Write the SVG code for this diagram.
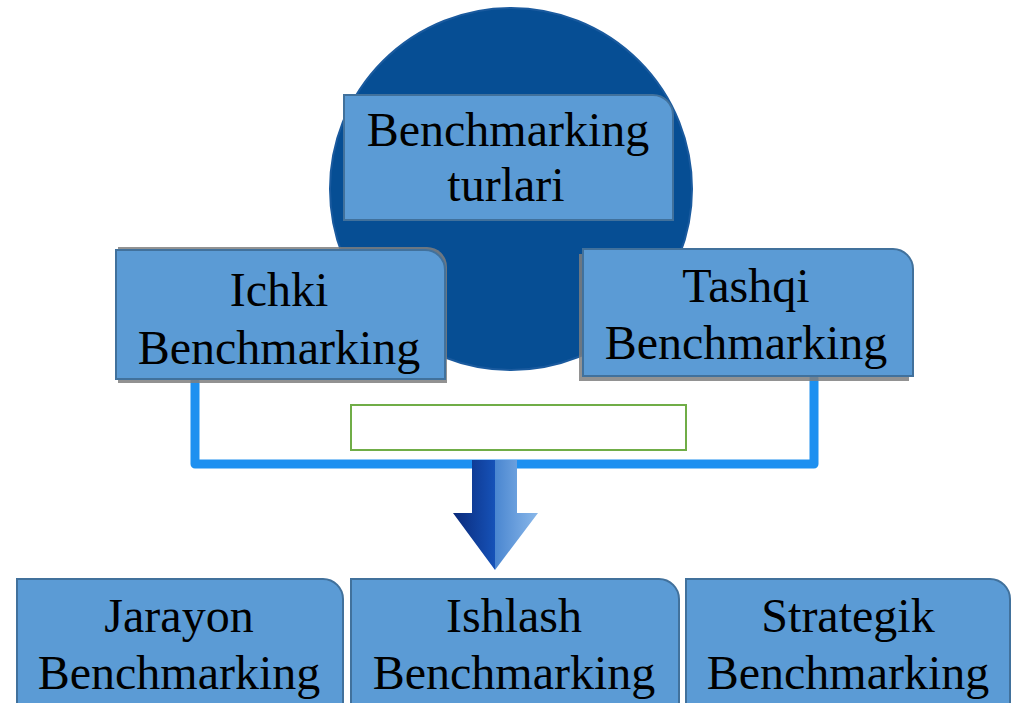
<svg xmlns="http://www.w3.org/2000/svg" width="1014" height="703" viewBox="0 0 1014 703">
<style>
.box{fill:#5b9bd5;stroke:#41719c;stroke-width:2}
.shadow{fill:#7f7f7f;opacity:0.85}
.t{font-family:"Liberation Serif","Times New Roman",serif;font-size:48px;fill:#000;text-anchor:middle}
.conn{fill:none;stroke:#1e90f0;stroke-width:9;stroke-linejoin:round;stroke-linecap:round}
</style>
<defs>
<linearGradient id="arrowL" x1="0" y1="0" x2="1" y2="0">
<stop offset="0" stop-color="#0a2a7a"/>
<stop offset="1" stop-color="#1652b8"/>
</linearGradient>
<linearGradient id="arrowR" x1="0" y1="0" x2="1" y2="0">
<stop offset="0" stop-color="#4a86d0"/>
<stop offset="1" stop-color="#8ab8ea"/>
</linearGradient>
</defs>
<rect width="1014" height="703" fill="#ffffff"/>
<g id="circle">
<circle cx="511" cy="189" r="181" fill="#064e94" stroke="#1a5a9e" stroke-width="2"/>
</g>
<g id="connectors">
<path class="conn" d="M195,380 V464 H814 V378"/>
<rect x="351" y="405" width="335" height="45" fill="#ffffff" stroke="#70ad47" stroke-width="2"/>
<g id="arrow">
<polygon points="472,460 495,460 495,570 453,513 472,513" fill="url(#arrowL)"/>
<polygon points="495,460 517,460 517,513 538,513 495,570" fill="url(#arrowR)"/>
</g>
</g>
<g id="node-top">
<path class="box" d="M344,95 H653 A20,20 0 0 1 673,115 V220 H344 Z"/>
<text class="t" x="508" y="146">Benchmarking</text>
<text class="t" x="506" y="201">turlari</text>
</g>
<g id="node-ichki">
<path class="shadow" d="M118,247 H427 A20,20 0 0 1 447,267 V383 H118 Z"/>
<path class="box" d="M116,250 H425 A20,20 0 0 1 445,270 V379 H116 Z"/>
<text class="t" x="279" y="306">Ichki</text>
<text class="t" x="279" y="364">Benchmarking</text>
</g>
<g id="node-tashqi">
<path class="shadow" d="M579,254 H889 A20,20 0 0 1 909,274 V381 H579 Z"/>
<path class="box" d="M583,249 H893 A20,20 0 0 1 913,269 V376 H583 Z"/>
<text class="t" x="746" y="302">Tashqi</text>
<text class="t" x="746" y="359">Benchmarking</text>
</g>
<g id="node-jarayon">
<path class="box" d="M17,579 H323 A20,20 0 0 1 343,599 V710 H17 Z"/>
<text class="t" x="179" y="632">Jarayon</text>
<text class="t" x="179" y="689">Benchmarking</text>
</g>
<g id="node-ishlash">
<path class="box" d="M351,579 H659 A20,20 0 0 1 679,599 V710 H351 Z"/>
<text class="t" x="514" y="632">Ishlash</text>
<text class="t" x="514" y="689">Benchmarking</text>
</g>
<g id="node-strategik">
<path class="box" d="M686,579 H990 A20,20 0 0 1 1010,599 V710 H686 Z"/>
<text class="t" x="848" y="632">Strategik</text>
<text class="t" x="848" y="689">Benchmarking</text>
</g>
</svg>
